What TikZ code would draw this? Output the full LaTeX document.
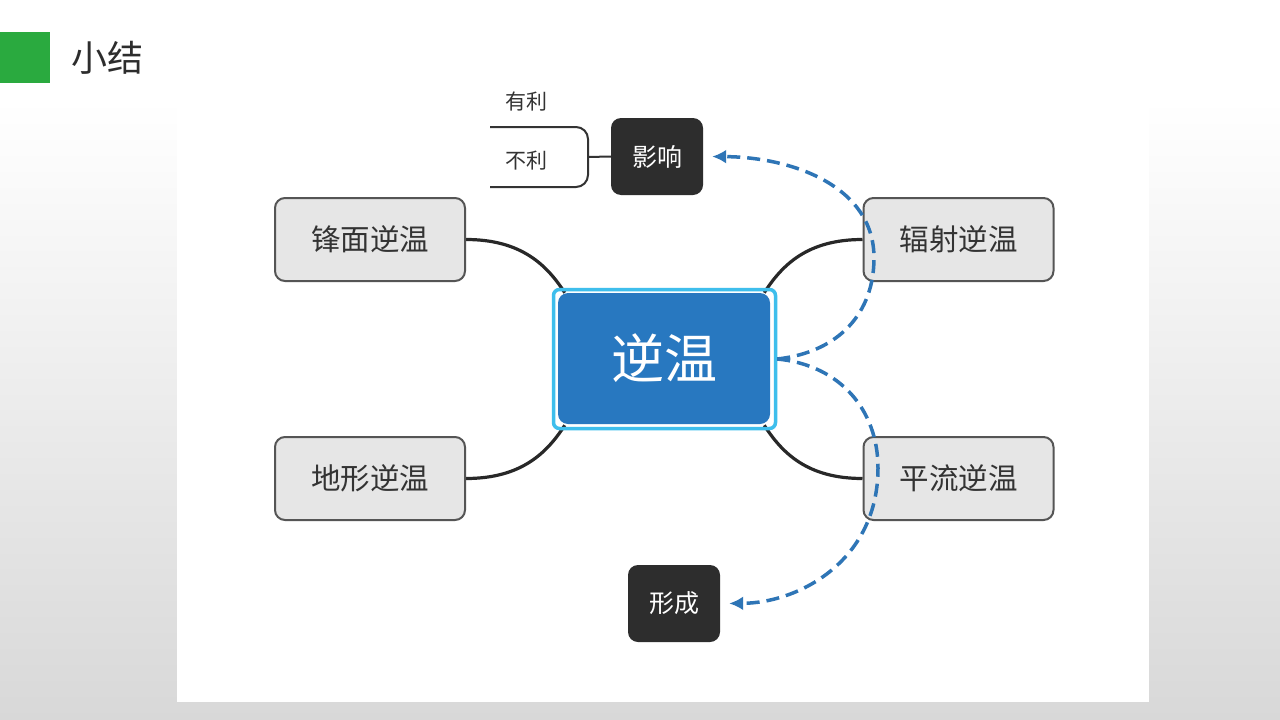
\documentclass[tikz,border=0pt]{standalone}
\usepackage{fontspec}
\setmainfont{Noto Sans CJK SC}
\usetikzlibrary{positioning, arrows.meta, backgrounds}
\definecolor{markgreen}{RGB}{42,170,63}
\definecolor{bgbottom}{RGB}{216,216,216}
\definecolor{coreblue}{RGB}{40,120,192}
\definecolor{rimblue}{RGB}{62,190,236}
\definecolor{boxfill}{RGB}{230,230,230}
\definecolor{boxline}{RGB}{85,85,85}
\definecolor{boxtext}{RGB}{51,51,51}
\definecolor{darkbox}{RGB}{45,45,45}
\definecolor{linkc}{RGB}{40,40,40}
\definecolor{flowc}{RGB}{46,117,182}

\begin{document}
\begin{tikzpicture}[x=1pt, y=-1pt,
kind/.style={rectangle, rounded corners=10pt, draw=boxline, line width=2pt, fill=boxfill, minimum width=190pt, minimum height=83pt, inner sep=0pt, text=boxtext, font=\fontsize{29.5}{32}\selectfont},
core/.style={rectangle, rounded corners=10pt, fill=coreblue, minimum width=212pt, minimum height=131pt, inner sep=0pt, text=white, font=\fontsize{53}{56}\selectfont},
rim/.style={rectangle, rounded corners=6pt, draw=rimblue, line width=3.5pt, minimum width=222pt, minimum height=139pt, inner sep=0pt},
dark/.style={rectangle, rounded corners=10pt, fill=darkbox, minimum width=92pt, minimum height=77pt, inner sep=0pt, text=white, font=\fontsize{25}{28}\selectfont},
small/.style={text=boxtext, inner sep=0pt, font=\fontsize{21}{24}\selectfont},
link/.style={draw=linkc, line width=3.2pt},
tie/.style={draw=boxtext, line width=2pt},
flow/.style={draw=flowc, line width=3.5pt, dash pattern=on 13pt off 7pt, -{Latex[length=14pt,width=14pt]}, shorten >=9pt}]
\useasboundingbox (0,0) rectangle (1280,720);
\begin{scope}[on background layer]
\fill[white] (0,0) rectangle (1280,100);
\shade[top color=white, bottom color=bgbottom] (0,100) rectangle (1280,720);
\fill[white] (177,62) rectangle (1149,702);
\fill[markgreen] (0,32) rectangle (50,83);
\end{scope}
\node (title) [anchor=west, text=darkbox, font=\fontsize{36}{38}\selectfont] at (68,58) {小结};

% four kinds
\node (fm) [kind] at (370,239.5) {锋面逆温};
\node (fs) [kind] at (958.5,239.5) {辐射逆温};
\node (dx) [kind] at (370,478.5) {地形逆温};
\node (pl) [kind] at (958.5,478.5) {平流逆温};

% centre
\node (main) [core] at (664,358.5) {逆温};
\node (frame) [rim] at (664.5,359) {};

\node (yx) [dark] at (657,156.5) {影响};
\node (xc) [dark] at (674,603.5) {形成};
\node (yl) [small] at (526,102) {有利};
\node (bl) [small] at (526,161) {不利};
\coordinate (br) at (588,157);

\begin{scope}[on background layer]
\draw[link] (fm.east) .. controls +(55pt,0pt) and +(-18pt,28pt) .. ([shift={(13pt,-5pt)}]frame.north west);
\draw[link] (fs.west) .. controls +(-55pt,0pt) and +(18pt,28pt) .. ([shift={(-13pt,-5pt)}]frame.north east);
\draw[link] (dx.east) .. controls +(55pt,0pt) and +(-18pt,-28pt) .. ([shift={(13pt,5pt)}]frame.south west);
\draw[link] (pl.west) .. controls +(-55pt,0pt) and +(18pt,-28pt) .. ([shift={(-13pt,5pt)}]frame.south east);
\end{scope}

\draw[tie] (yx.west) -- (br);
\draw[tie, rounded corners=12pt] (490,127) -- (588,127) -- (588,187) -- (490,187);

\draw[flow] (frame.east) .. controls (840,352) and (874,312) .. (874,258) .. controls (874,185) and (790,157) .. (yx.east);
\draw[flow] (frame.east) .. controls (840,365) and (878,410) .. (878,468) .. controls (878,560) and (800,603) .. (xc.east);
\end{tikzpicture}
\end{document}
